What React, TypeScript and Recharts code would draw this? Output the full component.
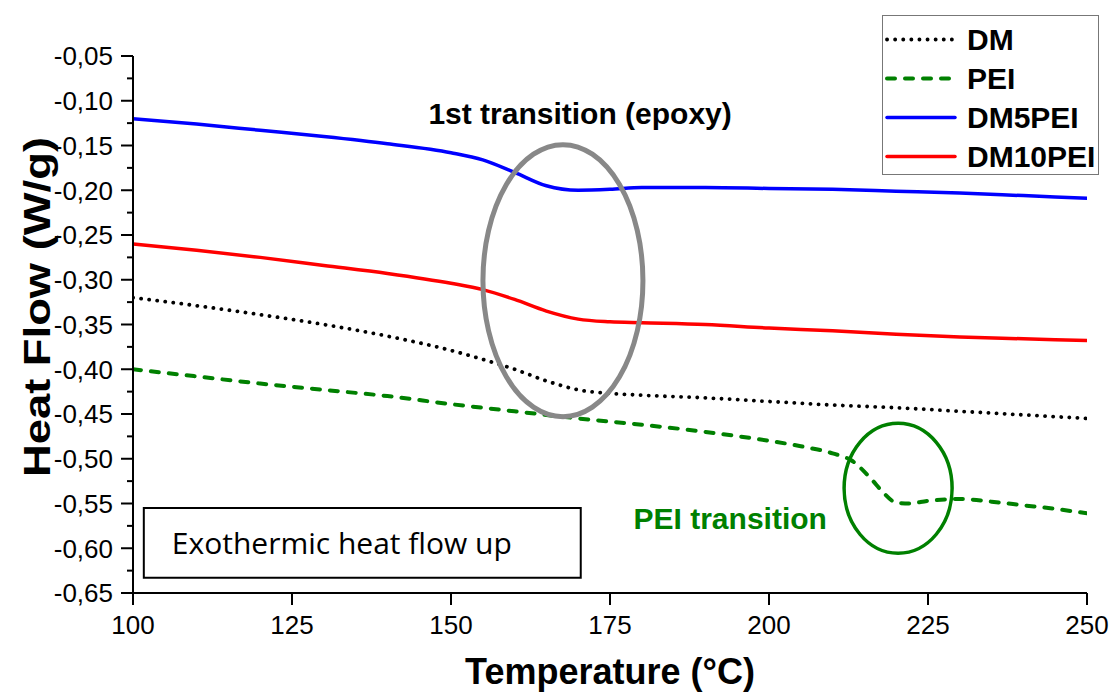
import React from "react";
import {
  LineChart,
  Line,
  XAxis,
  YAxis,
  Legend,
  ReferenceDot,
  ReferenceArea,
  Label,
} from "recharts";

// temperatures (°C)
const tempMain = [100, 110, 120, 130, 140, 150, 155, 160, 165, 170, 175, 180, 190, 200, 210, 220, 230, 240, 250];
const dm = [-0.320, -0.329, -0.339, -0.350, -0.363, -0.379, -0.389, -0.400, -0.413, -0.423, -0.427, -0.429, -0.432, -0.436, -0.440, -0.443, -0.447, -0.451, -0.455];
const dm5pei = [-0.120, -0.126, -0.133, -0.140, -0.148, -0.158, -0.166, -0.180, -0.195, -0.200, -0.199, -0.197, -0.197, -0.198, -0.199, -0.201, -0.203, -0.206, -0.209];
const dm10pei = [-0.260, -0.267, -0.275, -0.284, -0.293, -0.304, -0.311, -0.322, -0.335, -0.344, -0.347, -0.348, -0.350, -0.354, -0.357, -0.361, -0.364, -0.366, -0.368];

const tempPei = [100, 110, 120, 130, 140, 150, 160, 170, 180, 190, 200, 205, 210, 213, 216, 218, 220, 222, 225, 230, 235, 240, 245, 250];
const pei = [-0.400, -0.408, -0.416, -0.423, -0.430, -0.439, -0.447, -0.455, -0.462, -0.470, -0.480, -0.486, -0.494, -0.502, -0.522, -0.538, -0.549, -0.550, -0.547, -0.545, -0.548, -0.552, -0.556, -0.561];

const xTicks = [100, 125, 150, 175, 200, 225, 250];
const yMajorTicks = [-0.65, -0.6, -0.55, -0.5, -0.45, -0.4, -0.35, -0.3, -0.25, -0.2, -0.15, -0.1, -0.05];
const yMinorTicks = [-0.625, -0.575, -0.525, -0.475, -0.425, -0.375, -0.325, -0.275, -0.225, -0.175, -0.125, -0.075];

const FONT = "'Liberation Sans', Arial, sans-serif";

const series = [
  { name: "DM", color: "#000000", dash: "0.1 8", width: 3.8, temps: tempMain, values: dm },
  { name: "PEI", color: "#008000", dash: "8 10", width: 4, temps: tempPei, values: pei },
  { name: "DM5PEI", color: "#0000ff", dash: undefined, width: 3.5, temps: tempMain, values: dm5pei },
  { name: "DM10PEI", color: "#ff0000", dash: undefined, width: 3.5, temps: tempMain, values: dm10pei },
];

const fmt = (v: number) => v.toFixed(2).replace(".", ",");

function YTick(props: any) {
  const { x, y, payload } = props;
  const major = yMajorTicks.some((v) => Math.abs(v - payload.value) < 1e-6);
  return (
    <g>
      <line x1={x - (major ? 12 : 6)} x2={x} y1={y} y2={y} stroke="#000" strokeWidth={2} />
      {major && (
        <text x={x - 20} y={y} dy="0.36em" textAnchor="end" fontSize={26} fontFamily={FONT} fill="#000">
          {fmt(payload.value)}
        </text>
      )}
    </g>
  );
}

function XTick(props: any) {
  const { x, y, payload } = props;
  return (
    <g>
      <line x1={x} x2={x} y1={y} y2={y + 12} stroke="#000" strokeWidth={2} />
      <text x={x} y={y + 41} textAnchor="middle" fontSize={26} fontFamily={FONT} fill="#000">
        {payload.value}
      </text>
    </g>
  );
}

function LegendBox() {
  return (
    <div
      style={{
        width: 217,
        height: 160,
        boxSizing: "border-box",
        border: "1.5px solid #777",
        background: "#fff",
        paddingTop: 4,
      }}
    >
      {series.map((s) => (
        <div key={s.name} style={{ display: "flex", alignItems: "center", height: 39 }}>
          <svg width={80} height={39} style={{ display: "block" }}>
            <line
              x1={4}
              x2={72}
              y1={19.5}
              y2={19.5}
              stroke={s.color}
              strokeWidth={s.width}
              strokeDasharray={s.dash}
              strokeLinecap="round"
            />
          </svg>
          <span style={{ fontFamily: FONT, fontWeight: "bold", fontSize: 30, marginLeft: 4, color: "#000" }}>
            {s.name}
          </span>
        </div>
      ))}
    </div>
  );
}

export default function App() {
  return (
    <div style={{ position: "absolute", left: 0, top: 0, background: "#fff" }}>
      <LineChart width={1110} height={693} margin={{ top: 56, right: 23, left: 0, bottom: 0 }}>
        <XAxis
          type="number"
          dataKey="t"
          domain={[100, 250]}
          ticks={xTicks}
          allowDataOverflow
          height={100}
          tick={<XTick />}
          tickLine={false}
          tickSize={0}
          tickMargin={0}
          axisLine={{ stroke: "#000", strokeWidth: 2 }}
        >
          <Label
            value="Temperature (°C)"
            position="insideBottom"
            offset={9}
            style={{ fontFamily: FONT, fontWeight: "bold", fontSize: 36, fill: "#000" }}
          />
        </XAxis>
        <YAxis
          type="number"
          domain={[-0.65, -0.05]}
          ticks={[...yMajorTicks, ...yMinorTicks].sort((a, b) => a - b)}
          allowDataOverflow
          width={133}
          tick={<YTick />}
          tickLine={false}
          tickSize={0}
          tickMargin={0}
          axisLine={{ stroke: "#000", strokeWidth: 2 }}
          interval={0}
        >
          <Label
            content={() => (
              <text
                x={50}
                y={307}
                transform="rotate(-90 50 307)"
                textAnchor="middle"
                fontFamily={FONT}
                fontWeight="bold"
                fontSize={37}
                fill="#000"
                textLength={340}
                lengthAdjust="spacingAndGlyphs"
              >
                Heat Flow (W/g)
              </text>
            )}
          />
        </YAxis>
        <Legend
          layout="vertical"
          align="center"
          verticalAlign="middle"
          content={() => <LegendBox />}
          wrapperStyle={{ position: "absolute", left: 882, top: 15, width: 217, height: 160 }}
        />
        {series.map((s) => (
          <Line
            key={s.name}
            name={s.name}
            data={s.temps.map((t, i) => ({ t, v: s.values[i] }))}
            dataKey="v"
            type="monotone"
            stroke={s.color}
            strokeWidth={s.width}
            strokeDasharray={s.dash}
            strokeLinecap="round"
            dot={false}
            activeDot={false}
            isAnimationActive={false}
          />
        ))}
        <ReferenceArea
          x1={101.7}
          x2={170.4}
          y1={-0.633}
          y2={-0.555}
          fill="#fff"
          fillOpacity={1}
          stroke="#000"
          strokeWidth={2}
          label={{
            value: "Exothermic heat flow up",
            position: "insideLeft",
            offset: 28,
            fontSize: 30,
            fontFamily: "'Open Sans', sans-serif",
            fill: "#000",
          }}
        />
        <ReferenceDot
          x={167.6}
          y={-0.301}
          r={1}
          shape={(p: any) => (
            <ellipse cx={p.cx} cy={p.cy} rx={80} ry={136} fill="none" stroke="#888" strokeWidth={5} />
          )}
        />
        <ReferenceDot
          x={220.3}
          y={-0.533}
          r={1}
          shape={(p: any) => (
            <ellipse cx={p.cx} cy={p.cy} rx={54} ry={65} fill="none" stroke="#008000" strokeWidth={3.5} />
          )}
        />
        <ReferenceDot
          x={170.3}
          y={-0.114}
          r={1}
          shape={(p: any) => (
            <text x={p.cx} y={p.cy} dy="0.36em" textAnchor="middle" fontFamily={FONT} fontWeight="bold" fontSize={30} fill="#000">
              1st transition (epoxy)
            </text>
          )}
        />
        <ReferenceDot
          x={193.9}
          y={-0.566}
          r={1}
          shape={(p: any) => (
            <text x={p.cx} y={p.cy} dy="0.36em" textAnchor="middle" fontFamily={FONT} fontWeight="bold" fontSize={30} fill="#008000">
              PEI transition
            </text>
          )}
        />
      </LineChart>
    </div>
  );
}
